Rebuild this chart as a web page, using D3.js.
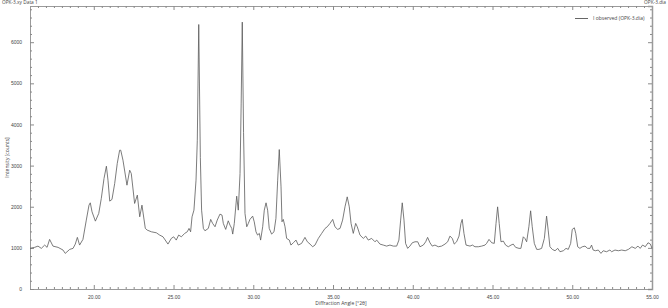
<!DOCTYPE html>
<html>
<head>
<meta charset="utf-8">
<script src="https://cdn.jsdelivr.net/npm/d3@7"></script>
<style>
    body { margin: 0; background: #fff; }
    svg { display: block; font-family: "Open Sans", "DejaVu Sans", sans-serif; }
    .axis path { stroke: #9a9a9a; }
    .axis line { stroke: #8a8a8a; }
    .axis text { fill: #444; font-size: 5px; }
</style>
</head>
<body>
<div id="vis"></div>
<script>
// diffraction angle (°2θ) and intensity (counts)
var angles = [
    16.00, 16.29, 16.50, 16.71, 16.92, 17.07, 17.23, 17.44, 17.76, 18.07,
    18.21, 18.49, 18.70, 18.84, 18.97, 19.11, 19.32, 19.53, 19.70, 19.78,
    19.89, 20.10, 20.31, 20.47, 20.64, 20.79, 20.89, 21.00, 21.14, 21.31,
    21.47, 21.62, 21.69, 21.83, 22.08, 22.25, 22.35, 22.56, 22.73, 22.88,
    23.02, 23.23, 23.35, 23.61, 23.92, 24.13, 24.34, 24.65, 24.86, 25.01,
    25.17, 25.32, 25.49, 25.70, 25.86, 25.97, 26.07, 26.16, 26.28, 26.41,
    26.49, 26.58, 26.68, 26.76, 26.87, 26.97, 27.18, 27.33, 27.45, 27.60,
    27.74, 27.91, 28.04, 28.12, 28.27, 28.43, 28.54, 28.65, 28.71, 28.81,
    28.96, 29.06, 29.17, 29.24, 29.31, 29.39, 29.48, 29.59, 29.69, 29.79,
    29.96, 30.06, 30.17, 30.27, 30.38, 30.46, 30.59, 30.69, 30.80, 30.90,
    31.00, 31.15, 31.30, 31.42, 31.53, 31.63, 31.74, 31.80, 31.88, 31.99,
    32.09, 32.26, 32.36, 32.51, 32.68, 32.82, 33.03, 33.24, 33.39, 33.56,
    33.72, 33.87, 34.08, 34.29, 34.50, 34.64, 34.81, 34.98, 35.12, 35.29,
    35.44, 35.60, 35.75, 35.89, 36.02, 36.13, 36.27, 36.42, 36.52, 36.69,
    36.90, 37.05, 37.21, 37.42, 37.63, 37.74, 37.94, 38.15, 38.36, 38.57,
    38.78, 38.99, 39.13, 39.24, 39.34, 39.45, 39.55, 39.68, 39.82, 39.97,
    40.14, 40.31, 40.45, 40.66, 40.81, 40.93, 41.08, 41.22, 41.39, 41.60,
    41.81, 42.02, 42.19, 42.33, 42.48, 42.60, 42.75, 42.90, 43.02, 43.10,
    43.21, 43.34, 43.59, 43.74, 43.90, 44.11, 44.32, 44.53, 44.63, 44.78,
    44.95, 45.11, 45.22, 45.32, 45.42, 45.53, 45.68, 45.82, 45.99, 46.16,
    46.30, 46.45, 46.66, 46.78, 46.93, 47.03, 47.14, 47.28, 47.39, 47.49,
    47.62, 47.77, 47.91, 48.08, 48.25, 48.39, 48.49, 48.60, 48.75, 48.92,
    49.09, 49.23, 49.44, 49.61, 49.75, 49.90, 50.00, 50.13, 50.22, 50.34,
    50.48, 50.63, 50.80, 50.96, 51.11, 51.21, 51.31, 51.46, 51.63, 51.80,
    51.94, 52.15, 52.36, 52.47, 52.68, 52.89, 53.10, 53.32, 53.52, 53.74,
    53.95, 54.12, 54.26, 54.41, 54.58, 54.75, 54.90, 55.00
];

var counts = [
    988, 1012, 1043, 988, 1068, 1012, 1206, 1043, 1012, 947,
    866, 963, 988, 1092, 1255, 1068, 1206, 1675, 2039, 2095,
    1876, 1650, 1837, 2200, 2686, 2985, 2645, 2136, 2177, 2565,
    3050, 3374, 3374, 3131, 2524, 2888, 2808, 2080, 2282, 1755,
    2039, 1473, 1432, 1391, 1367, 1311, 1269, 1092, 1230, 1269,
    1189, 1311, 1269, 1352, 1391, 1473, 1391, 1755, 1917, 2645,
    3616, 6430, 3200, 1917, 1473, 1415, 1473, 1692, 1595, 1513,
    1675, 1820, 1796, 1595, 1449, 1658, 1553, 1473, 1335, 1595,
    2257, 1917, 2808, 4500, 6488, 3800, 1837, 1513, 1595, 1692,
    1772, 1634, 1391, 1311, 1352, 1189, 1513, 1917, 2095, 1917,
    1473, 1335, 1391, 1716, 2645, 3390, 2483, 1634, 1692, 1513,
    1230, 1189, 1068, 1124, 1189, 1068, 1109, 1255, 1148, 1092,
    1027, 1068, 1230, 1352, 1473, 1513, 1595, 1692, 1513, 1449,
    1473, 1675, 1997, 2240, 1997, 1595, 1352, 1595, 1513, 1311,
    1230, 1286, 1189, 1230, 1148, 1189, 1092, 1068, 1043, 1068,
    1043, 1043, 1189, 1675, 2095, 1675, 1109, 988, 1043, 1124,
    1148, 1148, 1027, 1068, 1148, 1255, 1124, 1043, 1068, 1027,
    1043, 1092, 1148, 1286, 1230, 1092, 1148, 1286, 1595, 1692,
    1352, 1068, 1043, 1068, 1027, 1027, 1043, 1068, 1109, 1206,
    1124, 1109, 1595, 1997, 1595, 1148, 1165, 1068, 1027, 1068,
    1092, 1012, 988, 988, 1269, 1230, 1148, 1513, 1901, 1513,
    1109, 963, 963, 988, 1230, 1772, 1432, 1027, 963, 930,
    988, 906, 930, 988, 963, 1109, 1449, 1488, 1352, 1027,
    988, 1027, 1043, 988, 988, 1068, 947, 930, 947, 866,
    930, 906, 947, 906, 947, 930, 947, 930, 963, 1027,
    988, 1043, 988, 1068, 1027, 1124, 1092, 988
];

var xMajorTicks = [20, 25, 30, 35, 40, 45, 50, 55];
var yMajorTicks = [0, 1000, 2000, 3000, 4000, 5000, 6000];

function drawChart()
{
    var width = 668, height = 308;
    var margin = { left: 30, right: 652, top: 6, bottom: 289 }; // plot frame edges, px

    var svg = d3.select("#vis")
        .append("svg")
            .attr("width", width)
            .attr("height", height);

    var x = d3.scaleLinear().domain([16, 55]).range([margin.left, margin.right]);
    var y = d3.scaleLinear().domain([0, 6880]).range([margin.bottom, margin.top]);

    var xMinor = d3.range(16, 55.01, 0.5).filter(function(v) { return v % 5 !== 0; });
    var yMinor = d3.range(0, 6880, 200).filter(function(v) { return v % 1000 !== 0; });

    function noDomain(g) { g.select(".domain").remove(); }

    // bottom axis: inward ticks + labels
    svg.append("g").attr("class", "axis")
        .attr("transform", "translate(0," + margin.bottom + ")")
        .call(d3.axisBottom(x).tickValues(xMajorTicks).tickSize(-4).tickPadding(9)
            .tickFormat(d3.format(".2f")))
        .call(function(g) { g.selectAll("text").attr("dy", "0.2em"); });
    svg.append("g").attr("class", "axis")
        .attr("transform", "translate(0," + margin.bottom + ")")
        .call(d3.axisBottom(x).tickValues(xMinor).tickSize(-2).tickFormat(""))
        .call(noDomain);

    // top axis
    svg.append("g").attr("class", "axis")
        .attr("transform", "translate(0," + margin.top + ")")
        .call(d3.axisTop(x).tickValues(xMajorTicks).tickSize(-4).tickFormat(""));
    svg.append("g").attr("class", "axis")
        .attr("transform", "translate(0," + margin.top + ")")
        .call(d3.axisTop(x).tickValues(xMinor).tickSize(-2).tickFormat(""))
        .call(noDomain);

    // left axis
    svg.append("g").attr("class", "axis")
        .attr("transform", "translate(" + margin.left + ",0)")
        .call(d3.axisLeft(y).tickValues(yMajorTicks).tickSize(-4).tickPadding(8)
            .tickFormat(d3.format("d")));
    svg.append("g").attr("class", "axis")
        .attr("transform", "translate(" + margin.left + ",0)")
        .call(d3.axisLeft(y).tickValues(yMinor).tickSize(-2).tickFormat(""))
        .call(noDomain);

    // right axis
    svg.append("g").attr("class", "axis")
        .attr("transform", "translate(" + margin.right + ",0)")
        .call(d3.axisRight(y).tickValues(yMajorTicks).tickSize(-4).tickFormat(""))
        .call(function(g) { g.select(".domain").attr("stroke-width", 1.5); });
    svg.append("g").attr("class", "axis")
        .attr("transform", "translate(" + margin.right + ",0)")
        .call(d3.axisRight(y).tickValues(yMinor).tickSize(-2).tickFormat(""))
        .call(noDomain);

    // the pattern
    var line = d3.line()
        .x(function(d, i) { return x(angles[i]); })
        .y(function(d) { return y(d); });

    svg.append("path")
        .datum(counts)
        .attr("fill", "none")
        .attr("stroke", "#5a5a5a")
        .attr("stroke-width", 0.8)
        .attr("stroke-linejoin", "round")
        .attr("d", line);

    // texts
    svg.append("text")
        .attr("x", 2).attr("y", 4.2)
        .attr("font-size", 4.8).attr("fill", "#444")
        .text("OPK-3.xy Data 1");

    svg.append("text")
        .attr("x", 666).attr("y", 4.2)
        .attr("text-anchor", "end")
        .attr("font-size", 4.8).attr("fill", "#444")
        .text("OPK-3.dia");

    svg.append("text")
        .attr("x", (margin.left + margin.right) / 2).attr("y", 305)
        .attr("text-anchor", "middle")
        .attr("font-size", 5).attr("fill", "#444")
        .text("Diffraction Angle [°2θ]");

    svg.append("text")
        .attr("transform", "translate(9," + ((margin.top + margin.bottom) / 2 + 10) + ") rotate(-90)")
        .attr("text-anchor", "middle")
        .attr("font-size", 5).attr("fill", "#444")
        .text("Intensity [counts]");

    // legend
    svg.append("line")
        .attr("x1", 575).attr("x2", 588)
        .attr("y1", 18.5).attr("y2", 18.5)
        .attr("stroke", "#666").attr("stroke-width", 1);

    svg.append("text")
        .attr("x", 593).attr("y", 20.3)
        .attr("font-size", 5).attr("fill", "#444")
        .text("I observed (OPK-3.dia)");
}

drawChart();
</script>
</body>
</html>
